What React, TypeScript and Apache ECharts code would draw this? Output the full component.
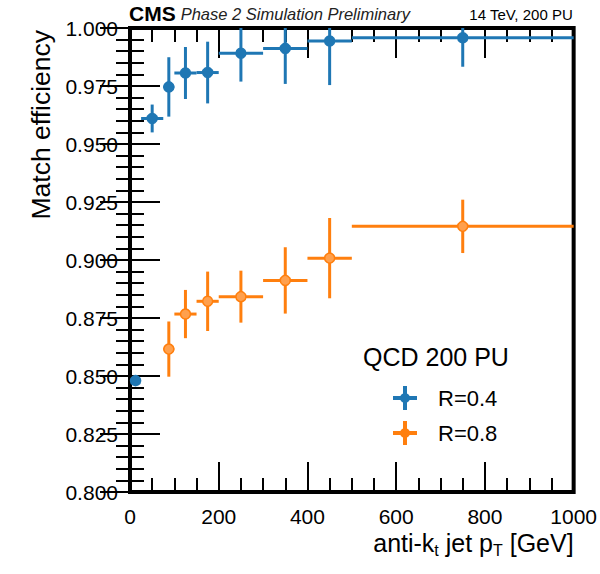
import React, { useEffect, useRef } from 'react';
import * as echarts from 'echarts';

// ---- data ----
const binLow = [0, 25, 75, 100, 150, 200, 300, 400, 500];
const binHigh = [25, 75, 100, 150, 200, 300, 400, 500, 1000];
const binCenter = [12.5, 50, 87.5, 125, 175, 250, 350, 450, 750];
const effR04: (number | null)[] = [0.848, 0.961, 0.9746, 0.9806, 0.9808, 0.9891, 0.9912, 0.9944, 0.9958];
const errR04: (number | null)[] = [0.002, 0.006, 0.0128, 0.0112, 0.0133, 0.0122, 0.0153, 0.019, 0.0125];
const effR08: (number | null)[] = [null, null, 0.8616, 0.8767, 0.8822, 0.8842, 0.8912, 0.9008, 0.9145];
const errR08: (number | null)[] = [null, null, 0.0119, 0.0104, 0.0128, 0.0112, 0.0143, 0.0173, 0.0115];
const seriesNames = ['R=0.4', 'R=0.8'];
const legendTitle = 'QCD 200 PU';
const xMin = 0, xMax = 1000, xStep = 200;
const yMin = 0.8, yMax = 1.0, yStep = 0.025;

const FONT = '"Liberation Sans", Arial, Helvetica, sans-serif';
const BLUE = '#1f77b4';
const ORANGE = '#ff7f0e';

function buildData(eff: (number | null)[], err: (number | null)[]) {
  const out: number[][] = [];
  for (let i = 0; i < binCenter.length; i++) {
    const v = eff[i];
    const e = err[i];
    if (v == null || e == null) continue;
    out.push([binCenter[i], v, binLow[i], binHigh[i], e]);
  }
  return out;
}

function makeRender(fill: string) {
  return (params: any, api: any) => {
    const x = api.value(0), y = api.value(1), lo = api.value(2), hi = api.value(3), e = api.value(4);
    const c = api.coord([x, y]);
    const l = api.coord([Math.max(lo, xMin), y]);
    const r = api.coord([Math.min(hi, xMax), y]);
    const t = api.coord([x, Math.min(y + e, yMax)]);
    const b = api.coord([x, Math.max(y - e, yMin)]);
    const color = api.visual('color');
    return {
      type: 'group',
      children: [
        { type: 'line', shape: { x1: l[0], y1: l[1], x2: r[0], y2: r[1] }, style: { stroke: color, lineWidth: 3 } },
        { type: 'line', shape: { x1: t[0], y1: t[1], x2: b[0], y2: b[1] }, style: { stroke: color, lineWidth: 3 } },
        { type: 'circle', shape: { cx: c[0], cy: c[1], r: 5 }, style: { fill, stroke: color, lineWidth: 1.5 } },
      ],
    };
  };
}

const ICON = 'path://M0,10H24V14H0Z M10,0H14V24H10Z M12,7A5,5,0,1,1,11.99,7Z';

export default function App() {
  const ref = useRef<HTMLDivElement>(null);
  useEffect(() => {
    if (!ref.current) return;
    const chart = echarts.init(ref.current, undefined, { renderer: 'svg' });
    const tickStyle = { color: '#000', width: 2 };
    const commonX = {
      type: 'value' as const,
      min: xMin,
      max: xMax,
      interval: xStep,
      axisLine: { show: false },
      axisTick: { show: true, inside: true, length: 30, lineStyle: tickStyle },
      minorTick: { show: true, splitNumber: 4, length: 14, lineStyle: tickStyle },
      splitLine: { show: false },
      minorSplitLine: { show: false },
    };
    const commonY = {
      type: 'value' as const,
      min: yMin,
      max: yMax,
      interval: yStep,
      axisLine: { show: false },
      axisTick: { show: true, inside: true, length: 30, lineStyle: tickStyle },
      minorTick: { show: true, splitNumber: 5, length: 14, lineStyle: tickStyle },
      splitLine: { show: false },
      minorSplitLine: { show: false },
    };
    chart.setOption({
      animation: false,
      backgroundColor: '#fff',
      textStyle: { fontFamily: FONT },
      grid: {
        left: 130, top: 28, width: 444, height: 464,
        show: true, borderColor: '#000', borderWidth: 4, backgroundColor: 'transparent',
      },
      title: [
        {
          text: '{b|CMS} {i|Phase 2 Simulation Preliminary}',
          left: 129, top: 3, padding: 0,
          textStyle: {
            fontWeight: 'normal',
            rich: {
              b: { fontFamily: FONT, fontWeight: 'bold', fontSize: 21, color: '#000' },
              i: { fontFamily: FONT, fontStyle: 'italic', fontWeight: 'normal', fontSize: 16.5, color: '#222' },
            },
          },
        },
        {
          text: '14 TeV, 200 PU',
          right: 27, top: 7, padding: 0,
          textStyle: { fontFamily: FONT, fontSize: 15, fontWeight: 'normal', color: '#000' },
        },
        {
          text: legendTitle,
          left: 363, top: 344, padding: 0,
          textStyle: { fontFamily: FONT, fontSize: 25, fontWeight: 'normal', color: '#000' },
        },
      ],
      legend: {
        data: seriesNames.map((n) => ({ name: n, icon: ICON })),
        orient: 'vertical',
        left: 393, top: 386,
        itemWidth: 24, itemHeight: 24, itemGap: 11,
        padding: 0,
        textStyle: { fontFamily: FONT, fontSize: 22, color: '#000', padding: [0, 0, 0, 16] },
      },
      xAxis: [
        {
          ...commonX,
          position: 'bottom',
          name: '{n|anti-k}{s|t}{n| jet p}{s|T}{n| [GeV]}',
          nameLocation: 'end',
          nameGap: 0,
          nameTextStyle: {
            align: 'right', verticalAlign: 'top', padding: [36, 0, 0, 0],
            rich: {
              n: { fontFamily: FONT, fontSize: 25, color: '#000', lineHeight: 30, verticalAlign: 'middle' },
              s: { fontFamily: FONT, fontSize: 16, color: '#000', lineHeight: 16, verticalAlign: 'bottom' },
            },
          },
          axisLabel: {
            show: true, margin: 14, fontFamily: FONT, fontSize: 21, color: '#000',
            formatter: (v: number) => String(v),
          },
        },
        { ...commonX, position: 'top', axisLabel: { show: false } },
      ],
      yAxis: [
        {
          ...commonY,
          position: 'left',
          name: 'Match efficiency',
          nameLocation: 'end',
          nameRotate: 90,
          nameGap: -2,
          nameTextStyle: {
            fontFamily: FONT, fontSize: 26.5, color: '#000',
            align: 'right', verticalAlign: 'bottom', padding: [0, 0, 76, 0],
          },
          axisLabel: {
            show: true, margin: 12, fontFamily: FONT, fontSize: 21, color: '#000',
            formatter: (v: number) => v.toFixed(3),
          },
        },
        { ...commonY, position: 'right', axisLabel: { show: false } },
      ],
      series: [
        {
          name: seriesNames[0],
          type: 'custom',
          xAxisIndex: 0, yAxisIndex: 0,
          itemStyle: { color: BLUE },
          encode: { x: 0, y: 1 },
          renderItem: makeRender(BLUE),
          data: buildData(effR04, errR04),
          z: 3,
        },
        {
          name: seriesNames[1],
          type: 'custom',
          xAxisIndex: 0, yAxisIndex: 0,
          itemStyle: { color: ORANGE },
          encode: { x: 0, y: 1 },
          renderItem: makeRender('#ffa04d'),
          data: buildData(effR08, errR08),
          z: 3,
        },
      ],
    });
    return () => chart.dispose();
  }, []);
  return <div ref={ref} style={{ position: 'absolute', left: 0, top: 0, width: 600, height: 574 }} />;
}
